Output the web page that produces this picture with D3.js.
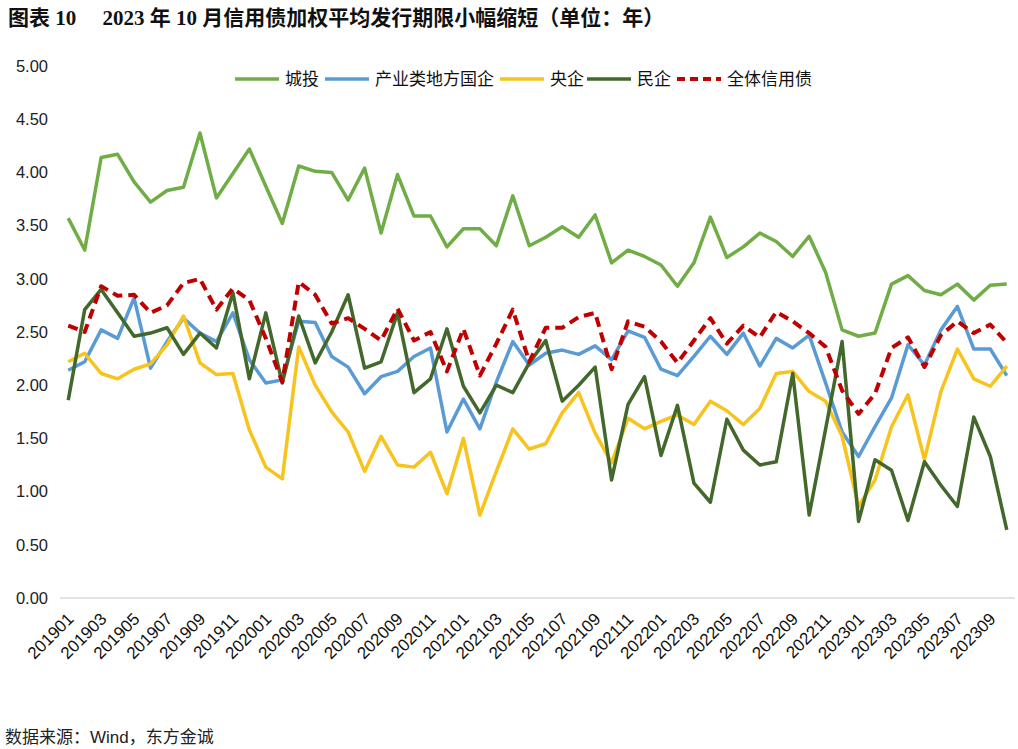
<!DOCTYPE html>
<html>
<head>
<meta charset="utf-8">
<script src="https://cdn.jsdelivr.net/npm/d3@7"></script>
<style>
  html, body { margin: 0; padding: 0; background: #fff; }
  svg { display: block; }
</style>
</head>
<body>
<svg id="chart" width="1018" height="749"></svg>
<script>
const months = [
  "201901","201902","201903","201904","201905","201906","201907","201908","201909","201910","201911","201912",
  "202001","202002","202003","202004","202005","202006","202007","202008","202009","202010","202011","202012",
  "202101","202102","202103","202104","202105","202106","202107","202108","202109","202110","202111","202112",
  "202201","202202","202203","202204","202205","202206","202207","202208","202209","202210","202211","202212",
  "202301","202302","202303","202304","202305","202306","202307","202308","202309","202310"
];
const tickLabels = months.filter((m, i) => i % 2 === 0);
const yTicks = [0, 0.5, 1, 1.5, 2, 2.5, 3, 3.5, 4, 4.5, 5];

const chengtou = [3.57,3.27,4.14,4.17,3.91,3.72,3.83,3.86,4.37,3.76,3.99,4.22,3.87,3.52,4.06,4.01,4.00,3.74,4.04,3.43,3.98,3.59,3.59,3.30,3.47,3.47,3.31,3.78,3.31,3.39,3.49,3.39,3.60,3.15,3.27,3.21,3.13,2.93,3.15,3.58,3.20,3.30,3.43,3.35,3.21,3.40,3.06,2.52,2.46,2.49,2.95,3.03,2.89,2.85,2.95,2.80,2.94,2.95];
const chanye = [2.14,2.22,2.52,2.44,2.82,2.16,2.41,2.63,2.49,2.41,2.68,2.24,2.02,2.05,2.60,2.59,2.27,2.17,1.92,2.08,2.13,2.27,2.35,1.56,1.87,1.59,2.03,2.41,2.19,2.30,2.33,2.29,2.37,2.24,2.51,2.45,2.15,2.09,2.27,2.46,2.29,2.49,2.18,2.44,2.35,2.47,2.02,1.56,1.33,1.61,1.88,2.38,2.19,2.52,2.74,2.34,2.34,2.09];
const yangqi = [2.22,2.30,2.11,2.06,2.15,2.20,2.38,2.65,2.21,2.10,2.11,1.58,1.23,1.12,2.36,2.00,1.75,1.56,1.19,1.52,1.25,1.23,1.37,0.98,1.50,0.78,1.19,1.59,1.40,1.45,1.74,1.93,1.55,1.27,1.69,1.59,1.66,1.72,1.63,1.85,1.76,1.63,1.78,2.11,2.13,1.94,1.85,1.52,0.86,1.11,1.61,1.91,1.30,1.94,2.34,2.06,1.99,2.18];
const minqi = [1.86,2.71,2.90,2.68,2.46,2.49,2.54,2.29,2.49,2.35,2.87,2.06,2.68,2.02,2.65,2.21,2.50,2.85,2.16,2.22,2.68,1.93,2.06,2.53,1.99,1.74,2.00,1.93,2.21,2.42,1.85,2.00,2.17,1.11,1.82,2.08,1.34,1.81,1.08,0.90,1.68,1.39,1.25,1.28,2.11,0.78,1.59,2.41,0.72,1.30,1.20,0.73,1.28,1.06,0.86,1.70,1.33,0.64];
const quanti = [2.56,2.50,2.93,2.84,2.85,2.68,2.75,2.96,3.00,2.71,2.91,2.80,2.44,2.03,2.97,2.85,2.58,2.63,2.53,2.42,2.72,2.42,2.50,2.13,2.53,2.09,2.39,2.71,2.22,2.54,2.54,2.64,2.68,2.15,2.60,2.55,2.41,2.21,2.42,2.63,2.39,2.56,2.45,2.69,2.60,2.49,2.36,1.95,1.73,1.92,2.35,2.45,2.17,2.47,2.60,2.49,2.57,2.40];

const seriesNames = ["城投","产业类地方国企","央企","民企","全体信用债"];
const seriesColors = ["#70AD47","#5B9BD5","#F7C31C","#43682B","#C00000"];
const seriesData = [chengtou, chanye, yangqi, minqi, quanti];

const svg = d3.select("#chart");
const plotLeft = 60, plotRight = 1015, plotTop = 66, plotBottom = 598;

const x = d3.scalePoint().domain(months).range([plotLeft, plotRight]).padding(0.5);
const y = d3.scaleLinear().domain([0, 5]).range([plotBottom, plotTop]);

// Title
svg.append("text")
  .attr("x", 8).attr("y", 25)
  .attr("font-family", "'Liberation Serif', 'Noto Sans CJK SC', serif")
  .attr("font-weight", "bold")
  .attr("font-size", 21)
  .attr("fill", "#111")
  .text("图表 10\u3000 2023 年 10 月信用债加权平均发行期限小幅缩短（单位：年）");

// Y axis labels
const yAxis = d3.axisLeft(y).tickValues(yTicks).tickFormat(d3.format(".2f")).tickSize(0).tickPadding(12);
const gy = svg.append("g").attr("transform", `translate(${plotLeft},0)`).call(yAxis);
gy.select(".domain").remove();
gy.selectAll("text")
  .attr("font-family", "'Liberation Sans', 'Noto Sans', sans-serif")
  .attr("font-size", 16.5)
  .attr("fill", "#222");

// X axis
const xAxis = d3.axisBottom(x).tickValues(tickLabels).tickSize(0).tickPadding(0);
const gx = svg.append("g").attr("transform", `translate(0,${plotBottom})`).call(xAxis);
gx.select(".domain").attr("stroke", "#d9d9d9").attr("stroke-width", 1.5)
  .attr("d", `M${plotLeft},0H${plotRight}`);
gx.selectAll("text")
  .attr("font-family", "'Liberation Sans', 'Noto Sans', sans-serif")
  .attr("font-size", 17)
  .attr("fill", "#111")
  .attr("text-anchor", "end")
  .attr("dy", "0")
  .attr("transform", "translate(6,22) rotate(-45)");

// Lines
const line = d3.line().x((d, i) => x(months[i])).y(d => y(d));
seriesData.forEach((data, k) => {
  svg.append("path")
    .datum(data)
    .attr("fill", "none")
    .attr("stroke", seriesColors[k])
    .attr("stroke-width", k === 4 ? 4 : 3.5)
    .attr("stroke-linejoin", "round")
    .attr("stroke-dasharray", k === 4 ? "10,6" : null)
    .attr("d", line);
});

// Legend
const legendStarts = [235, 325, 500, 587, 677];
const legend = svg.append("g");
seriesNames.forEach((name, k) => {
  const g = legend.append("g").attr("transform", `translate(${legendStarts[k]},79)`);
  g.append("line").attr("x1", 0).attr("x2", 44).attr("y1", 0).attr("y2", 0)
    .attr("stroke", seriesColors[k]).attr("stroke-width", k === 4 ? 4 : 3.5)
    .attr("stroke-dasharray", k === 4 ? "8,5" : null);
  g.append("text").attr("x", 50).attr("y", 6)
    .attr("font-family", "'Noto Sans CJK SC', sans-serif")
    .attr("font-size", 17)
    .attr("fill", "#111")
    .text(name);
});

// Footer
svg.append("text")
  .attr("x", 5).attr("y", 743)
  .attr("font-family", "'Liberation Sans', 'Noto Sans CJK SC', sans-serif")
  .attr("font-size", 17)
  .attr("fill", "#222")
  .text("数据来源：Wind，东方金诚");
</script>
</body>
</html>
